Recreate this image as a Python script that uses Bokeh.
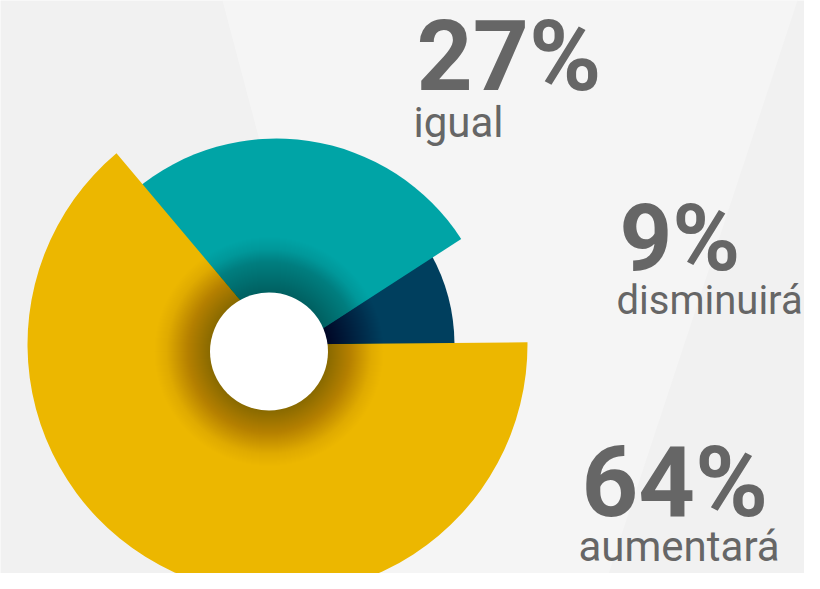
import numpy as np
from bokeh.plotting import figure
from bokeh.models import Range1d, ColumnDataSource
from bokeh.core.properties import value
from bokeh.embed import file_html
from bokeh.resources import INLINE

# ---- data ----
categories = ["disminuirá", "igual", "aumentará"]
values = [9, 27, 64]
colors = ["#003f5e", "#00a4a6", "#ecb700"]
pct_labels = [f"{v}%" for v in values]

# ---- layout / style (reference pixel space, y flipped) ----
W, H = 804, 573
REF_H = 589


def Y(sy):
    return REF_H - sy


p = figure(width=W, height=H,
           x_range=Range1d(0, W),
           y_range=Range1d(REF_H - H, REF_H),
           output_backend="svg", toolbar_location=None, min_border=0)
p.axis.visible = False
p.grid.visible = False
p.outline_line_color = None
p.background_fill_color = "#f1f1f1"
p.border_fill_color = "#f1f1f1"

# lighter diagonal band in background
p.patch(x=[222, 797, 603, 378], y=[Y(0), Y(0), Y(589), Y(589)],
        fill_color="#f5f5f5", line_color=None)

# ---- wedges ----
start = np.deg2rad(0.5)
frac = np.array(values, dtype=float) / sum(values)
ends = start + 2 * np.pi * np.cumsum(frac)
starts = ends - 2 * np.pi * frac

wsrc = ColumnDataSource(dict(
    x=[265, 276, 277],
    y=[Y(345), Y(358), Y(344)],
    r=[189, 220, 250],
    start=starts, end=ends, color=colors, cat=categories))
p.wedge(x="x", y="y", radius="r", start_angle="start", end_angle="end",
        fill_color="color", line_color=None, source=wsrc)

# ---- radial shadow around the hole ----
cx, cy = 268.5, Y(351)
r_in, r_out = 59.0, 116.0
radii = np.arange(r_out, r_in - 1, -1.0)


def dark(r):
    t = np.clip((r - r_in) / (r_out - r_in), 0, 1)
    return 0.33 * (1 - t) ** 1.1


alphas = []
prev = 0.0
for r in radii:
    d = dark(r)
    a = 1 - (1 - d) / (1 - prev)
    alphas.append(max(a, 0.0))
    prev = d
p.circle(x=[cx] * len(radii), y=[cy] * len(radii), radius=list(radii),
         fill_color="black", fill_alpha=alphas, line_color=None)

# hole
p.circle(x=[cx], y=[cy], radius=59, fill_color="white", line_color=None)

# ---- labels ----
SHIFT = 0.33  # baseline correction, in em


def ty(baseline, size):
    return Y(baseline) + SHIFT * size


pct_sizes = [92, 98, 99]
pct_base = [268, 88, 514]
psrc = ColumnDataSource(dict(
    x=[619, 416, 581],
    y=[ty(b, s) for b, s in zip(pct_base, pct_sizes)],
    text=pct_labels,
    size=[f"{s}px" for s in pct_sizes]))
p.text(x="x", y="y", text="text", text_font=value("Roboto"),
       text_font_style="bold", text_font_size="size", text_color="#666666",
       text_baseline="alphabetic", text_align="left", source=psrc)

cat_sizes = [40, 42, 42]
cat_base = [313, 136, 560]
csrc = ColumnDataSource(dict(
    x=[616, 413, 578],
    y=[ty(b, s) for b, s in zip(cat_base, cat_sizes)],
    text=categories,
    size=[f"{s}px" for s in cat_sizes]))
p.text(x="x", y="y", text="text", text_font=value("Roboto"),
       text_font_size="size", text_color="#666666",
       text_baseline="alphabetic", text_align="left", source=csrc)

open("out.html", "w").write(file_html(p, INLINE))
